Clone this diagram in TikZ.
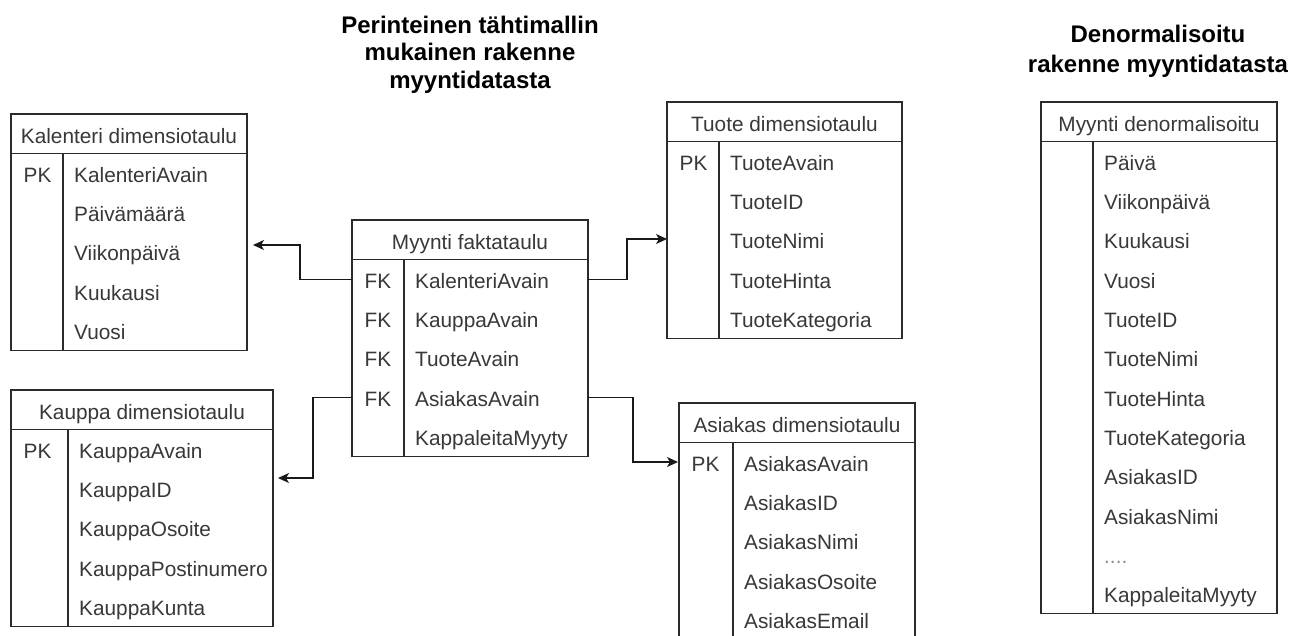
\documentclass[tikz,border=0pt]{standalone}
\usepackage{fontspec}
\setmainfont{Liberation Sans}
\usetikzlibrary{calc,arrows.meta}

\definecolor{inkline}{HTML}{2B2B2B}
\definecolor{inktext}{HTML}{383838}

\tikzset{
  tablebox/.style={draw=inkline, line width=1.2pt, inner sep=0pt, outer sep=0pt, fill=white},
  rowbox/.style={inner sep=0pt, outer sep=0pt},
  tableline/.style={draw=inkline, line width=1.2pt},
  cell/.style={inner sep=0pt, text=inktext, font=\fontsize{20.8}{24}\selectfont},
  titletext/.style={inner sep=0pt, align=center, text=black},
  conn/.style={draw=black!90, line width=1.3pt, -{Stealth[length=11pt,width=10pt,inset=3pt]}},
}

\newcommand\fourdots{\textcolor{black!45}{....}}

% #1 name, #2 left, #3 top, #4 width, #5 key column width,
% #6 number of rows, #7 table title, #8 key/field rows
\newcommand\erdtable[8]{%
  \node[tablebox, anchor=north west, minimum width=#4, minimum height={39.5+#6*39.35}] (#1) at (#2,#3) {};
  \node[tablebox, anchor=north west, minimum width=#4, minimum height=39.5] (#1-h) at (#2,#3) {};
  \node[cell, anchor=base] (#1-t) at ($(#1-h.north)+(0,29.3)$) {#7};
  \draw[tableline] ($(#1-h.south west)+(#5,0)$) -- ($(#1.south west)+(#5,0)$);
  \foreach[count=\i] \k/\f in {#8}{%
    \node[rowbox, anchor=north west, minimum width=#4, minimum height=39.35] (#1-r\i) at ($(#1-h.south west)+(0,{(\i-1)*39.35})$) {};
    \node[cell, anchor=base west] (#1-k\i) at ($(#1-r\i.north west)+(12.5,28.6)$) {\k};
    \node[cell, anchor=base west] (#1-f\i) at ($(#1-r\i.north west)+(#5+11,28.6)$) {\f};
  }%
}

\begin{document}
\begin{tikzpicture}[x=1pt, y=-1pt]
  \fill[white] (0,0) rectangle (1307,635);
  \useasboundingbox (0,0) rectangle (1307,635);
  \clip (0,0) rectangle (1307,635);

  % headings
  \node[titletext, anchor=north, font=\bfseries\fontsize{24}{27.5}\selectfont] (star-title) at (470,15.8)
    {Perinteinen tähtimallin\\mukainen rakenne\\myyntidatasta};
  \node[titletext, anchor=north, font=\bfseries\fontsize{24}{30}\selectfont] (flat-title) at (1158,24.5)
    {Denormalisoitu\\rakenne myyntidatasta};

  % star schema tables
  \erdtable{kal}{11}{114}{236}{52}{5}{Kalenteri dimensiotaulu}
    {PK/KalenteriAvain,/Päivämäärä,/Viikonpäivä,/Kuukausi,/Vuosi}
  \erdtable{fact}{352}{220}{236}{52}{5}{Myynti faktataulu}
    {FK/KalenteriAvain,FK/KauppaAvain,FK/TuoteAvain,FK/AsiakasAvain,/KappaleitaMyyty}
  \erdtable{tuote}{667}{102}{235}{52}{5}{Tuote dimensiotaulu}
    {PK/TuoteAvain,/TuoteID,/TuoteNimi,/TuoteHinta,/TuoteKategoria}
  \erdtable{kauppa}{11}{390}{262}{57}{5}{Kauppa dimensiotaulu}
    {PK/KauppaAvain,/KauppaID,/KauppaOsoite,/KauppaPostinumero,/KauppaKunta}
  \erdtable{asiakas}{679}{403}{236}{54}{5}{Asiakas dimensiotaulu}
    {PK/AsiakasAvain,/AsiakasID,/AsiakasNimi,/AsiakasOsoite,/AsiakasEmail}

  % denormalised table
  \erdtable{denorm}{1041}{102}{236}{52}{12}{Myynti denormalisoitu}
    {/Päivä,/Viikonpäivä,/Kuukausi,/Vuosi,/TuoteID,/TuoteNimi,/TuoteHinta,/TuoteKategoria,/AsiakasID,/AsiakasNimi,/\fourdots,/KappaleitaMyyty}

  % foreign key references
  \draw[conn] (fact-r1.west) -- ++(-52,0) |- ($(kal.north east)+(6,131)$);
  \draw[conn] (fact-r1.east) -- ++(39,0) |- ($(tuote.north west)+(0,137)$);
  \draw[conn] (fact-r4.west) -- ++(-39,0) |- ($(kauppa.north east)+(5,88)$);
  \draw[conn] (fact-r4.east) -- ++(45,0) |- ($(asiakas.north west)+(-1,59)$);
\end{tikzpicture}
\end{document}
